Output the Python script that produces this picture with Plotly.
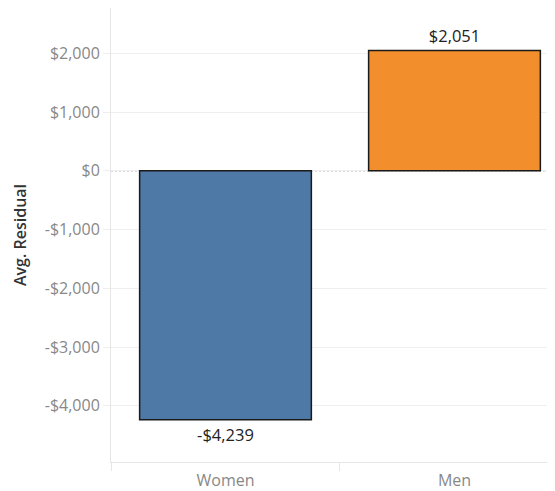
import plotly.graph_objects as go

categories = ["Women", "Men"]
avg_residual = [-4239, 2051]
bar_labels = ["-$4,239", "$2,051"]
bar_colors = ["#4e79a7", "#f28e2b"]
y_tick_values = [-4000, -3000, -2000, -1000, 0, 1000, 2000]
y_tick_labels = ["-$4,000", "-$3,000", "-$2,000", "-$1,000", "$0", "$1,000", "$2,000"]

FONT = "Open Sans"
GRID = "#efefef"

fig = go.Figure()
fig.add_trace(go.Bar(
    x=categories,
    y=avg_residual,
    width=0.75,
    marker=dict(color=bar_colors, line=dict(color="#1a1a1a", width=1.5)),
    text=bar_labels,
    textposition="outside",
    textfont=dict(family=FONT, size=16.5, color="#222222"),
    cliponaxis=False,
    hoverinfo="skip",
))

fig.add_shape(type="line", xref="paper", yref="y", x0=0, x1=1, y0=0, y1=0,
              line=dict(color="#999999", width=1, dash="2px,2px"), layer="between")

fig.update_layout(
    width=547, height=483,
    margin=dict(l=103, r=0, t=0, b=29),
    paper_bgcolor="white", plot_bgcolor="white",
    showlegend=False,
    font=dict(family=FONT, size=16, color="#888888"),
    xaxis=dict(
        range=[-0.5, 1.439],
        showgrid=False,
        showline=True, linecolor="#e6e6e6", linewidth=1,
        ticks="outside", tickson="boundaries", ticklen=8, tickcolor="#e6e6e6",
        tickfont=dict(family=FONT, size=16, color="#888888"),
        ticklabelstandoff=4,
        zeroline=False,
    ),
    yaxis=dict(
        range=[-4957, 2773],
        tickvals=y_tick_values, ticktext=y_tick_labels,
        showgrid=True, gridcolor=GRID, gridwidth=1,
        showline=True, linecolor="#e6e6e6", linewidth=1,
        ticks="outside", ticklen=7, tickcolor=GRID,
        tickfont=dict(family=FONT, size=16, color="#888888"),
        zeroline=False,
        title=dict(text="Avg. Residual", font=dict(family=FONT, size=16, color="#333333", weight=600), standoff=14),
    ),
)

fig.write_html("out.html")
